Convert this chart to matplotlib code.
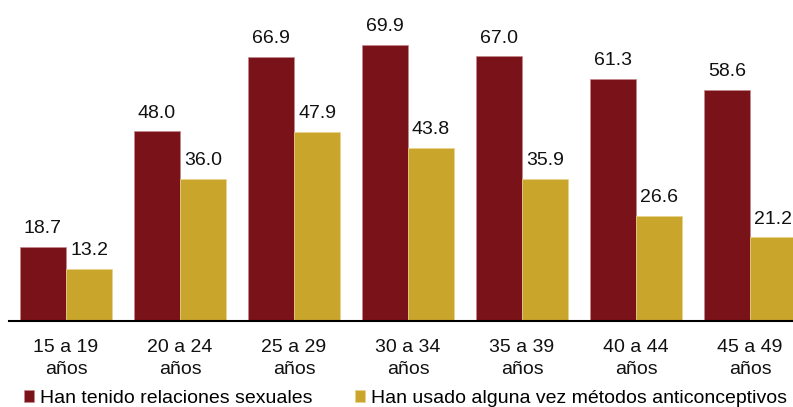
import matplotlib
matplotlib.use("Agg")
import matplotlib.pyplot as plt
import numpy as np

plt.rcParams["font.family"] = ["Liberation Sans", "DejaVu Sans"]

groups = ["15 a 19\naños", "20 a 24\naños", "25 a 29\naños", "30 a 34\naños",
          "35 a 39\naños", "40 a 44\naños", "45 a 49\naños"]
sexual = [18.7, 48.0, 66.9, 69.9, 67.0, 61.3, 58.6]
contracept = [13.2, 36.0, 47.9, 43.8, 35.9, 26.6, 21.2]
series_names = ["Han tenido relaciones sexuales",
                "Han usado alguna vez métodos anticonceptivos"]

red = "#7A1219"
gold = "#C9A52C"

fig = plt.figure(figsize=(7.93, 4.07), dpi=100, facecolor="white")
# axes runs slightly past the right edge, so the last bar is cut off
ax = fig.add_axes([9 / 793, 86 / 407, 798 / 793, 316 / 407])

x = np.arange(len(groups))
w = 0.404
b1 = ax.bar(x - w / 2, sexual, w, color=red, edgecolor="#C7898C", linewidth=0.5,
            label=series_names[0])
b2 = ax.bar(x + w / 2, contracept, w, color=gold, edgecolor="#E9D48C", linewidth=0.5,
            label=series_names[1])

for bars, vals in ((b1, sexual), (b2, contracept)):
    for r, v in zip(bars, vals):
        ax.annotate(f"{v:.1f}", (r.get_x() + r.get_width() / 2, v),
                    xytext=(0, 7), textcoords="offset points",
                    ha="center", va="bottom", fontsize=14, color="#111111")

ax.set_xlim(-0.5, len(groups) - 0.5)
ax.set_ylim(0, 80)
ax.set_xticks(x)
ax.set_xticklabels(groups, fontsize=14, color="#111111", linespacing=1.38)
ax.tick_params(axis="x", length=0, pad=13)
ax.set_yticks([])
for s in ("left", "right", "top"):
    ax.spines[s].set_visible(False)
ax.spines["bottom"].set_linewidth(1.5)
ax.spines["bottom"].set_color("black")

fig.legend(handles=[b1, b2], loc="lower left", bbox_to_anchor=(24 / 793, 0.0),
           ncol=2, frameon=False, fontsize=14, handlelength=0.52, handleheight=0.52,
           handletextpad=0.3, columnspacing=2.2, borderaxespad=0, borderpad=0)

fig.savefig("out.png", dpi=100, facecolor="white")
